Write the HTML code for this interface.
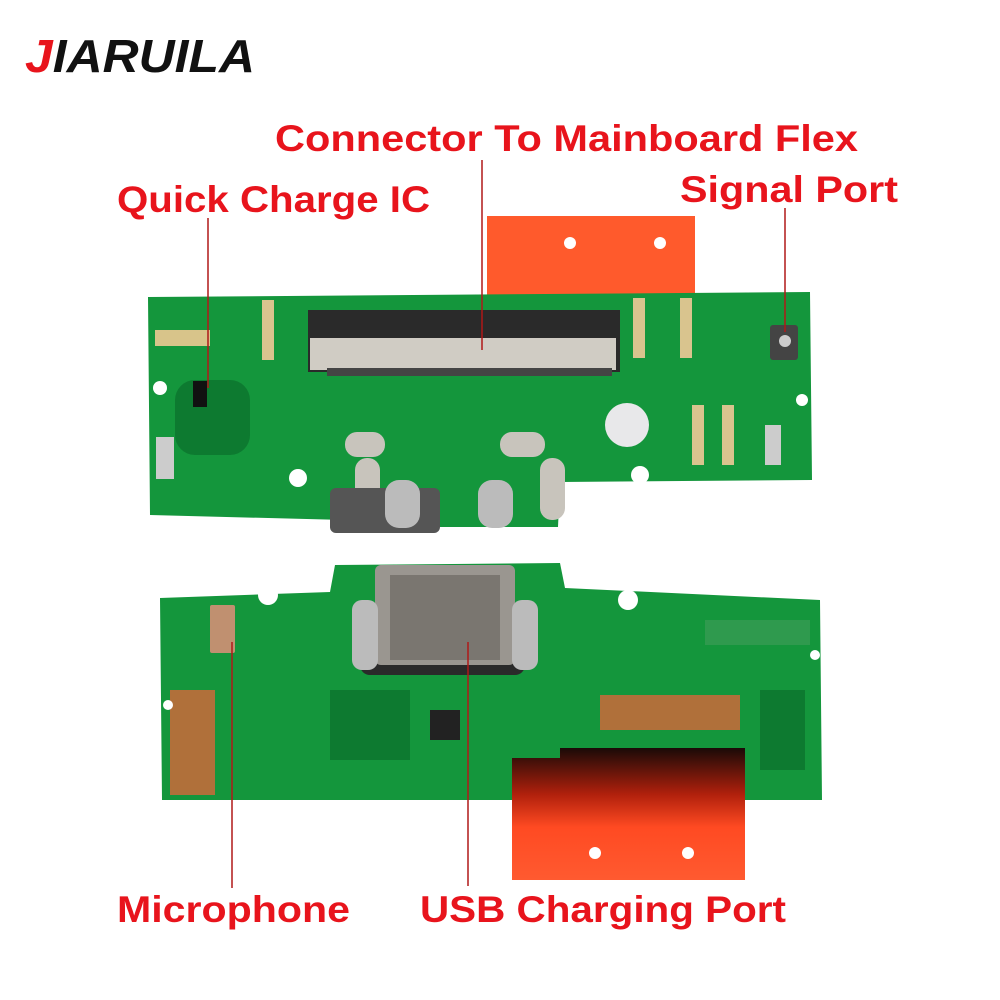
<!DOCTYPE html>
<html><head><meta charset="utf-8"><style>
html,body{margin:0;padding:0;background:#fff;width:1000px;height:1000px;overflow:hidden}
</style></head><body>
<svg width="1000" height="1000" viewBox="0 0 1000 1000" xmlns="http://www.w3.org/2000/svg">
<defs>
<linearGradient id="fl" x1="0" y1="0" x2="0" y2="1">
<stop offset="0" stop-color="#1a0a08"/><stop offset="0.35" stop-color="#b0200c"/><stop offset="0.6" stop-color="#ff4a22"/><stop offset="1" stop-color="#ff5a30"/>
</linearGradient>
</defs>
<rect width="1000" height="1000" fill="#fff"/>
<!-- logo -->
<text x="25" y="72" font-family="Liberation Sans, sans-serif" font-weight="bold" font-style="italic" font-size="46" textLength="230" lengthAdjust="spacingAndGlyphs"><tspan fill="#e8141c">J</tspan><tspan fill="#111">IARUILA</tspan></text>
<!-- labels -->
<g font-family="Liberation Sans, sans-serif" font-weight="bold" font-size="37" fill="#e8141c" lengthAdjust="spacingAndGlyphs">
<text x="275" y="151" textLength="583" lengthAdjust="spacingAndGlyphs">Connector To Mainboard Flex</text>
<text x="117" y="212" textLength="313" lengthAdjust="spacingAndGlyphs">Quick Charge IC</text>
<text x="680" y="202" textLength="218" lengthAdjust="spacingAndGlyphs">Signal Port</text>
<text x="117" y="922" textLength="233" lengthAdjust="spacingAndGlyphs">Microphone</text>
<text x="420" y="922" textLength="366" lengthAdjust="spacingAndGlyphs">USB Charging Port</text>
</g>
<!-- top flex -->
<rect x="487" y="216" width="208" height="90" fill="#ff5a2c"/>
<circle cx="570" cy="243" r="6" fill="#fff"/><circle cx="660" cy="243" r="6" fill="#fff"/>
<!-- top board -->
<path d="M148 297 L810 292 L812 480 L560 482 L558 527 L345 527 L345 520 L150 515 Z" fill="#14963c"/>
<rect x="175" y="380" width="75" height="75" rx="20" fill="#0d7a30"/>
<circle cx="160" cy="388" r="7" fill="#fff"/><circle cx="298" cy="478" r="9" fill="#fff"/>
<circle cx="640" cy="475" r="9" fill="#fff"/><circle cx="802" cy="400" r="6" fill="#fff"/>
<rect x="308" y="310" width="312" height="62" fill="#2a2a2a"/>
<rect x="310" y="338" width="306" height="32" fill="#d0ccc4"/>
<rect x="327" y="368" width="285" height="8" fill="#444"/>
<rect x="193" y="381" width="14" height="26" fill="#111"/>
<rect x="155" y="330" width="55" height="16" fill="#d8c48a"/>
<rect x="262" y="300" width="12" height="60" fill="#d9c48e"/>
<rect x="633" y="298" width="12" height="60" fill="#d9c48e"/><rect x="680" y="298" width="12" height="60" fill="#d9c48e"/>
<rect x="770" y="325" width="28" height="35" rx="3" fill="#444"/><circle cx="785" cy="341" r="6" fill="#ccc"/>
<circle cx="627" cy="425" r="22" fill="#e8e8ea"/>
<rect x="692" y="405" width="12" height="60" fill="#d9c48e"/><rect x="722" y="405" width="12" height="60" fill="#d9c48e"/>
<rect x="765" y="425" width="16" height="40" fill="#ccc"/>
<rect x="156" y="437" width="18" height="42" fill="#ccc"/>
<rect x="310" y="432" width="40" height="25" rx="12" fill="#c8c4bc" transform="translate(35 0)"/>
<rect x="500" y="432" width="45" height="25" rx="12" fill="#c8c4bc"/>
<rect x="305" y="458" width="25" height="62" rx="12" fill="#c8c4bc" transform="translate(50 0)"/>
<rect x="540" y="458" width="25" height="62" rx="12" fill="#c8c4bc"/>
<rect x="330" y="488" width="110" height="45" rx="6" fill="#555"/>
<rect x="385" y="480" width="35" height="48" rx="14" fill="#bbb"/><rect x="478" y="480" width="35" height="48" rx="14" fill="#bbb"/>
<!-- bottom board -->
<path d="M160 598 L330 592 L335 565 L560 563 L565 588 L820 600 L822 800 L162 800 Z" fill="#14963c"/>
<rect x="170" y="690" width="45" height="105" fill="#b0703a"/>
<rect x="600" y="695" width="140" height="35" fill="#b0703a"/>
<circle cx="268" cy="595" r="10" fill="#fff"/><circle cx="628" cy="600" r="10" fill="#fff"/>
<circle cx="168" cy="705" r="5" fill="#fff"/><circle cx="815" cy="655" r="5" fill="#fff"/>
<rect x="210" y="605" width="25" height="48" rx="2" fill="#c09070"/>
<rect x="330" y="690" width="80" height="70" fill="#0d7a30"/>
<rect x="760" y="690" width="45" height="80" fill="#0d7a30"/>
<rect x="360" y="620" width="165" height="55" rx="10" fill="#2a2a2a"/>
<rect x="375" y="565" width="140" height="100" rx="6" fill="#9a9690"/>
<rect x="390" y="575" width="110" height="85" fill="#7a7670"/>
<rect x="352" y="600" width="26" height="70" rx="10" fill="#bbb"/><rect x="512" y="600" width="26" height="70" rx="10" fill="#bbb"/>
<rect x="430" y="710" width="30" height="30" fill="#222"/>
<rect x="705" y="620" width="105" height="25" fill="#2f9a4e"/>
<!-- bottom flex -->
<path d="M512 758 L560 758 L560 748 L745 748 L745 880 L512 880 Z" fill="url(#fl)"/>
<circle cx="595" cy="853" r="6" fill="#fff"/><circle cx="688" cy="853" r="6" fill="#fff"/>
<!-- leader lines -->
<g stroke="#b01818" stroke-width="1.5">
<line x1="208" y1="218" x2="208" y2="388"/>
<line x1="482" y1="160" x2="482" y2="350"/>
<line x1="785" y1="208" x2="785" y2="332"/>
<line x1="232" y1="642" x2="232" y2="888"/>
<line x1="468" y1="642" x2="468" y2="886"/>
</g>
</svg>
</body></html>
